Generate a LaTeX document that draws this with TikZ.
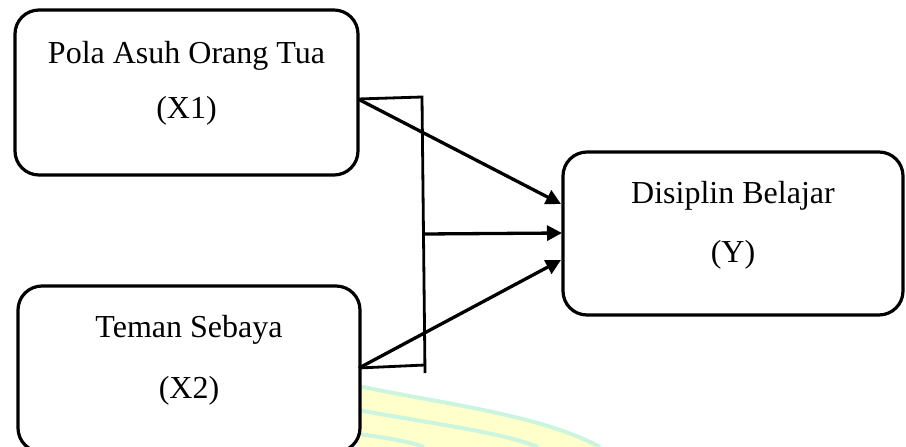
\documentclass[tikz,border=0pt]{standalone}
\usepackage{fontspec}
\setmainfont{Liberation Serif}
\usetikzlibrary{arrows.meta}
\definecolor{wmyellow}{HTML}{FFFFCC}
\definecolor{wmgreen}{HTML}{CCF5E0}
\begin{document}
\begin{tikzpicture}[x=1pt,y=-1pt,
  box/.style={draw,line width=3.2pt,rounded corners=24pt,fill=white,inner sep=0pt,outer sep=0pt},
  lbl/.style={anchor=base,inner sep=0pt,font=\fontsize{32}{38}\selectfont},
  brk/.style={line width=2.8pt},
  arr/.style={line width=3.3pt,-{Triangle[length=15pt,width=15pt]}}]
\useasboundingbox (0,0) rectangle (906,447);
% watermark
\fill[wmyellow] (358,386) .. controls (450,405) and (540,415) .. (600,447) -- (358,447) -- cycle;
\draw[wmgreen,line width=4pt] (358,386) .. controls (450,405) and (540,415) .. (600,447);
\draw[wmgreen,line width=4pt] (358,410) .. controls (440,425) and (500,432) .. (538,447);
\draw[wmgreen,line width=4pt] (358,434) .. controls (390,438) and (410,442) .. (424,447);
% boxes
\node[box,minimum width=343pt,minimum height=165pt] (x1) at (186.5,92.5) {};
\node[box,minimum width=342pt,minimum height=166pt] (x2) at (189,369) {};
\node[box,minimum width=340pt,minimum height=163pt] (y) at (733,233.5) {};
% labels
\node[lbl] (x1a) at (186.5,63) {Pola Asuh Orang Tua};
\node[lbl] (x1b) at (186.5,118) {(X1)};
\node[lbl] (x2a) at (189,337) {Teman Sebaya};
\node[lbl] (x2b) at (189,398) {(X2)};
\node[lbl] (ya) at (733,203) {Disiplin Belajar};
\node[lbl] (yb) at (733,262) {(Y)};
% connection points
\coordinate (p1) at (358,99);
\coordinate (p2) at (359,368);
\coordinate (bt) at (422,97);
\coordinate (bb) at (425,373);
\coordinate (bm) at (424,234);
\coordinate (bl) at (425,365);
\coordinate (q1) at (561,204);
\coordinate (q2) at (562,233);
\coordinate (q3) at (561,260);
% bracket
\draw[brk] (p1) -- (bt) -- (bb);
\draw[brk] (p2) -- (bl);
% arrows
\draw[arr] (p1) -- (q1);
\draw[arr] (bm) -- (q2);
\draw[arr] (p2) -- (q3);
\end{tikzpicture}
\end{document}
